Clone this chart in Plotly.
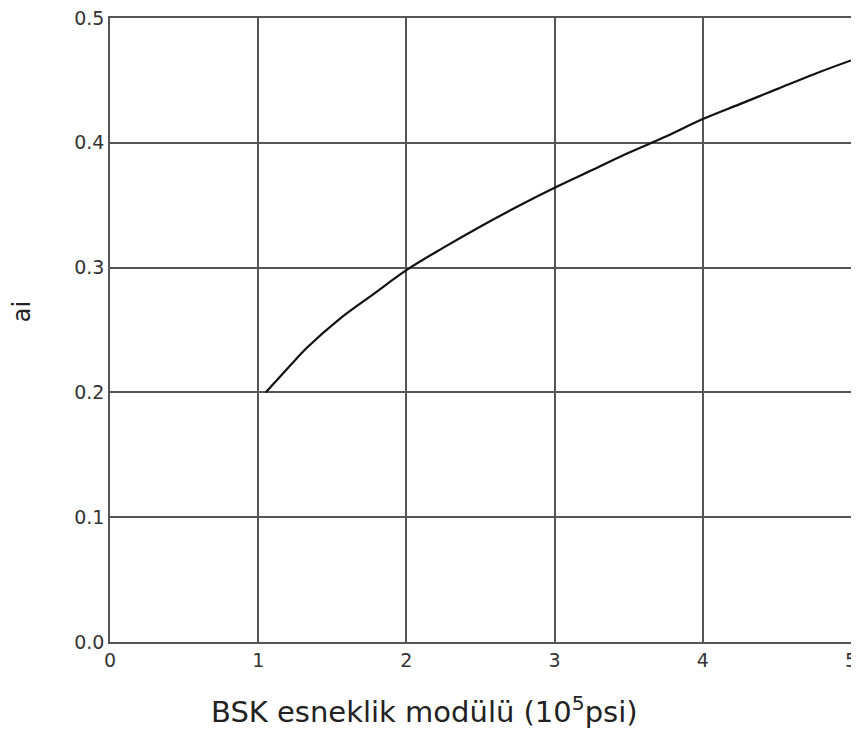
import plotly.graph_objects as go

# Values
modulus = [1.05, 1.15, 1.25, 1.33, 1.55, 1.78, 2.0, 2.25, 2.5, 2.75, 3.0,
           3.25, 3.5, 3.75, 4.0, 4.25, 4.5, 4.75, 5.0]
ai = [0.200, 0.213, 0.226, 0.236, 0.259, 0.279, 0.298, 0.316, 0.333, 0.349,
      0.364, 0.378, 0.392, 0.405, 0.419, 0.431, 0.443, 0.455, 0.466]

x_ticks = [0, 1, 2, 3, 4, 5]
y_ticks = [0.0, 0.1, 0.2, 0.3, 0.4, 0.5]

x_title = "BSK esneklik modülü (10<sup>5</sup>psi)"
y_title = "ai"

fig = go.Figure()
fig.add_trace(go.Scatter(x=modulus, y=ai, mode="lines",
                         line=dict(color="#111111", width=2.2, shape="spline"),
                         showlegend=False, cliponaxis=False))

grid_col = "#555555"
font_fam = "DejaVu Sans, Liberation Sans, Arial, sans-serif"
# page body adds an 8px offset, so the figure is sized to fit the window
fig.update_layout(
    width=851, height=720,
    margin=dict(l=102, r=8, t=10, b=86),
    paper_bgcolor="white", plot_bgcolor="white",
    font=dict(family=font_fam, color="#333333"),
)
fig.update_xaxes(
    range=[0, 5], tickvals=x_ticks, ticktext=[str(v) for v in x_ticks],
    showgrid=True, gridcolor=grid_col, gridwidth=1.5,
    showline=True, linecolor=grid_col, linewidth=1.5, mirror=True,
    zeroline=False, ticks="", tickfont=dict(size=19, family=font_fam),
    automargin=False, ticklabeloverflow="allow",
)
fig.update_yaxes(
    range=[0, 0.5], tickvals=y_ticks, ticktext=[f"{v:.1f}" for v in y_ticks],
    showgrid=True, gridcolor=grid_col, gridwidth=1.5,
    showline=True, linecolor=grid_col, linewidth=1.5, mirror=True,
    zeroline=False, ticks="", tickfont=dict(size=19, family=font_fam),
    automargin=False, ticklabeloverflow="allow",
)
fig.add_annotation(text=x_title, xref="paper", yref="paper",
                   x=0.425, y=-0.109, showarrow=False,
                   xanchor="center", yanchor="middle",
                   font=dict(size=29, color="#222222", family=font_fam))
fig.add_annotation(text=y_title, xref="paper", yref="paper",
                   x=-0.1188, y=0.53, showarrow=False, textangle=-90,
                   xanchor="center", yanchor="middle",
                   font=dict(size=24, color="#222222", family=font_fam))

fig.write_html("out.html")
